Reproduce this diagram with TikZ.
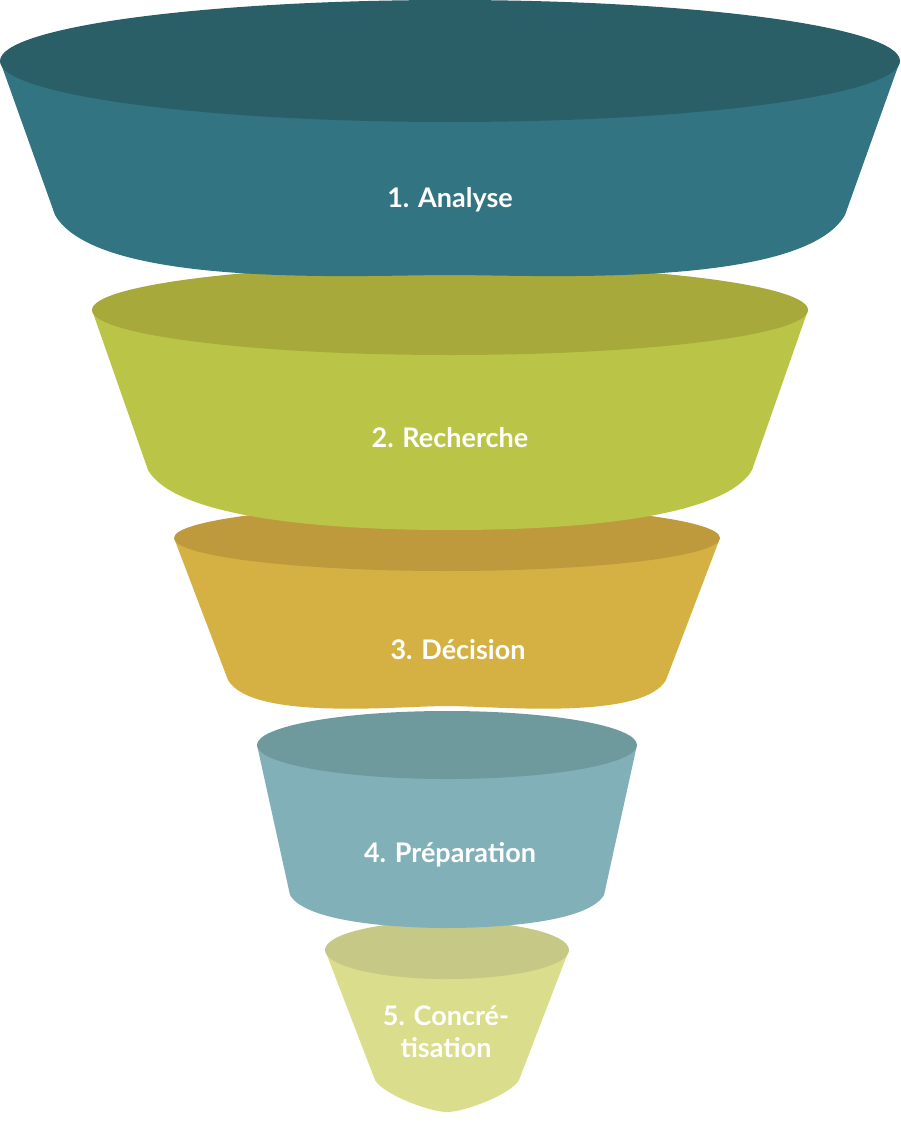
\documentclass[tikz,border=0pt]{standalone}
\usepackage{fontspec}
\setmainfont{Lato}
\usetikzlibrary{positioning}
\definecolor{topA}{HTML}{2A5F68}\definecolor{bodyA}{HTML}{337482}
\definecolor{topB}{HTML}{A7A93B}\definecolor{bodyB}{HTML}{BAC446}
\definecolor{topC}{HTML}{BE9A3C}\definecolor{bodyC}{HTML}{D4B142}
\definecolor{topD}{HTML}{6E9A9E}\definecolor{bodyD}{HTML}{81B0B8}
\definecolor{topE}{HTML}{C6C886}\definecolor{bodyE}{HTML}{D9DD8C}
\tikzset{stage/.style = {text=white, font=\bfseries\fontsize{27}{29}\selectfont, align=center}}
% #1 center x, #2 top y, #3 half width, #4 ellipse ry, #5 side bottom dx, #6 side bottom y, #7 bottom y, #8 body, #9 top
\newcommand\funnellayer[9]{
  \fill[#8] (#1-#3,#2) -- (#1-#5,#6) to[out=-60,in=180,looseness=0.55] (#1,#7)
    to[out=0,in=-120,looseness=0.55] (#1+#5,#6) -- (#1+#3,#2) -- cycle;
  \fill[#9] (#1,#2) ellipse [x radius=#3, y radius=#4];
}
\begin{document}
\begin{tikzpicture}[x=1pt,y=-1pt]
\useasboundingbox (0,0) rectangle (900,1140);
% from the narrow end up
\funnellayer{447}{950}{122}{29}{72}{1080}{1112}{bodyE}{topE}
\funnellayer{447}{745}{190}{34}{157}{895}{928}{bodyD}{topD}
\funnellayer{447}{538}{273}{33}{219}{680}{706}{bodyC}{topC}
\funnellayer{450}{310}{358}{45}{302}{470}{530}{bodyB}{topB}
\funnellayer{450}{61}{450}{61}{395}{215}{275}{bodyA}{topA}
\node[stage] (analyse) at (450,200) {1. Analyse};
\node[stage] (recherche) at (450,438) {2. Recherche};
\node[stage] (decision) at (458,650) {3. Décision};
\node[stage] (preparation) at (450,855) {4. Préparation};
\node[stage, font=\bfseries\fontsize{27}{32}\selectfont] (concretisation) at (446,1032) {5. Concré-\\tisation};
\end{tikzpicture}
\end{document}
